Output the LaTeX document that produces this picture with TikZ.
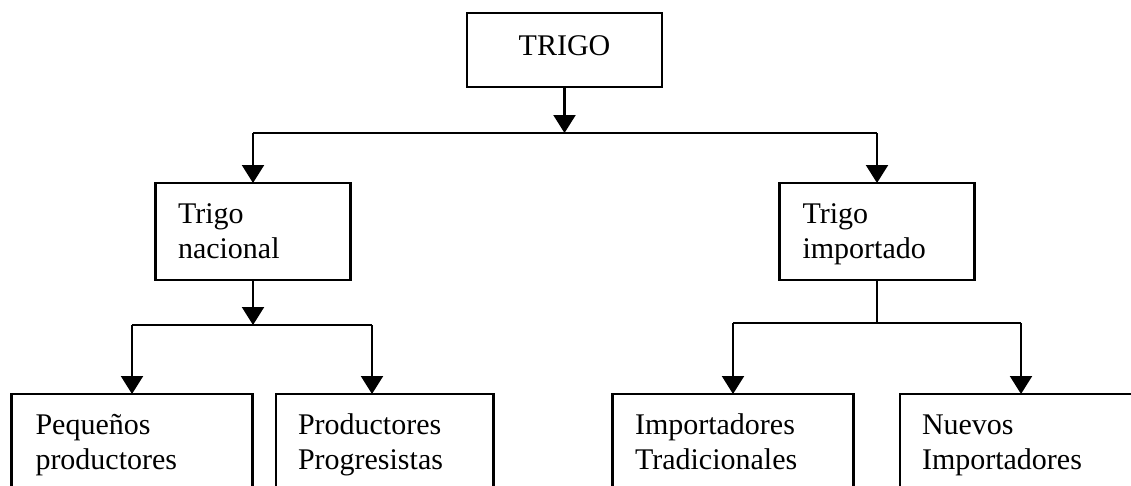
\documentclass[tikz,border=0pt]{standalone}
\usepackage{fontspec}
\setmainfont{Liberation Serif}
\usetikzlibrary{arrows.meta}
\begin{document}
\begin{tikzpicture}[x=1pt,y=-1pt,
  box/.style={draw, line width=2.2pt, inner sep=0pt, outer sep=0pt},
  ln/.style={line width=2.2pt},
  arr/.style={line width=2.2pt, -{Triangle[width=22pt,length=18pt]}},
  lbl/.style={font=\fontsize{30}{35}\selectfont, inner sep=0pt, outer sep=0pt, anchor=base west, text width=230pt, align=left}]
\useasboundingbox (0,0) rectangle (1131,485);
\clip (0,0) rectangle (1131,485);
% boxes
\node[box, minimum width=195pt, minimum height=74pt] (trigo) at (564.5,50) {};
\node[box, minimum width=195pt, minimum height=97pt] (nac) at (253,231.5) {};
\node[box, minimum width=195pt, minimum height=97pt] (imp) at (877,231.5) {};
\node[box, minimum width=241pt, minimum height=130pt] (peq) at (132,459) {};
\node[box, minimum width=217.5pt, minimum height=130pt] (prog) at (384.75,459) {};
\node[box, minimum width=241pt, minimum height=130pt] (itrad) at (733,459) {};
\node[box, minimum width=242pt, minimum height=130pt] (nuev) at (1021,459) {};
% texts
\node[lbl, anchor=base, text width=, align=center] (trigoT) at (564.5,55) {TRIGO};
\node[lbl] (nacT) at (178,223) {Trigo\\nacional};
\node[lbl] (impT) at (802.5,223) {Trigo\\importado};
\node[lbl] (peqT) at (35.5,434) {Pequeños\\productores};
\node[lbl] (progT) at (298,434) {Productores\\Progresistas};
\node[lbl] (itradT) at (635,434) {Importadores\\Tradicionales};
\node[lbl] (nuevT) at (922,434) {Nuevos\\Importadores};
% junctions
\coordinate (j1) at (564.5,133);
\coordinate (j1l) at (253,133);
\coordinate (j1r) at (877,133);
\coordinate (j2) at (253,325);
\coordinate (j2l) at (132,325);
\coordinate (j2r) at (372,325);
\coordinate (j3) at (877,323);
\coordinate (j3l) at (733,323);
\coordinate (j3r) at (1021,323);
% connectors
\draw[arr] (trigo.south) -- (j1);
\draw[ln] (j1l) -- (j1r);
\draw[arr] (j1l) -- (nac.north);
\draw[arr] (j1r) -- (imp.north);
\draw[arr] (nac.south) -- (j2);
\draw[ln] (j2l) -- (j2r);
\draw[arr] (j2l) -- (peq.north);
\draw[arr] (j2r) -- (j2r |- prog.north);
\draw[ln] (imp.south) -- (j3);
\draw[ln] (j3l) -- (j3r);
\draw[arr] (j3l) -- (itrad.north);
\draw[arr] (j3r) -- (nuev.north);
\end{tikzpicture}
\end{document}
